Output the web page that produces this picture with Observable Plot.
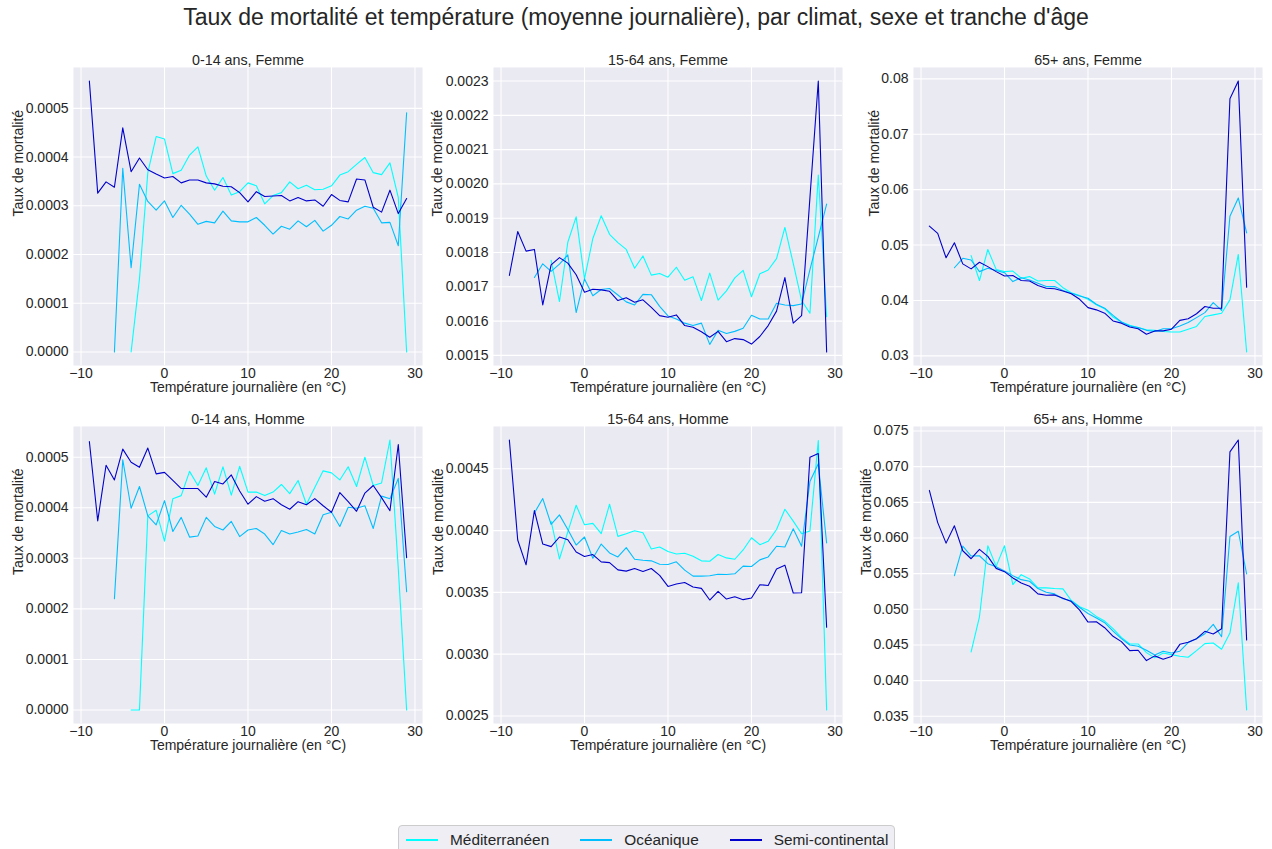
<!DOCTYPE html>
<html>
<head>
<meta charset="utf-8">
<script src="https://cdn.jsdelivr.net/npm/d3@7"></script>
<script src="https://cdn.jsdelivr.net/npm/@observablehq/plot@0.6"></script>
<style>
  body { margin: 0; background: #ffffff; }
  #fig { position: relative; width: 1272px; height: 849px; overflow: hidden; background: #fff;
         font-family: "Liberation Sans", Arial, sans-serif; color: #262626; }
  #title { position: absolute; left: 0; top: 6px; width: 1272px; text-align: center;
           font-size: 23px; line-height: 23px; white-space: nowrap; }
  .panel { position: absolute; }
  .panel svg { overflow: visible; }
  #legend { position: absolute; left: 398px; top: 825px; width: 497px; height: 34px;
            background: #eeeef4; border: 1px solid #cccccc; border-radius: 4px; box-sizing: border-box;
            display: flex; align-items: flex-start; padding-left: 7px; padding-top: 5px; }
  .item { display: flex; align-items: center; margin-right: 31px; height: 18px; }
  .sw { display: inline-block; width: 32px; height: 1.2px; margin-right: 12px; }
  .lab { font-size: 15.4px; line-height: 18px; white-space: nowrap; }
</style>
</head>
<body>
<div id="fig">
  <div id="title">Taux de mortalité et température (moyenne journalière), par climat, sexe et tranche d'âge</div>
  <div id="legend"></div>
</div>
<script>
// ---------- Data ----------
const temps = [-9,-8,-7,-6,-5,-4,-3,-2,-1,0,1,2,3,4,5,6,7,8,9,10,11,12,13,14,15,16,17,18,19,20,21,22,23,24,25,26,27,28,29];
const climats = ["Méditerranéen", "Océanique", "Semi-continental"];
const couleurs = ["#00ffff", "#00bfff", "#0000cd"];
const panelTitles = ["0-14 ans, Femme", "15-64 ans, Femme", "65+ ans, Femme", "0-14 ans, Homme", "15-64 ans, Homme", "65+ ans, Homme"];
const xLabel = "Température journalière (en °C)";
const yLabel = "Taux de mortalité";
const xTicks = [-10, 0, 10, 20, 30];
const xTickLabels = ["−10", "0", "10", "20", "30"];

// 0-14 ans, Femme
const f014_med = [null,null,null,null,null, 0,0.00015,0.000368,0.000442,0.000437,0.000366,0.000373,0.000404,0.000421,0.000361,0.000332,0.000358,0.000322,0.000329,0.000347,0.000341,0.000304,0.000321,0.000327,0.000349,0.000335,0.000342,0.000333,0.000334,0.000341,0.000363,0.00037,0.000385,0.000399,0.000368,0.000364,0.000388,0.000317,0];
const f014_oce = [null,null,null, 0,0.000377,0.000173,0.000344,0.000309,0.000291,0.00031,0.000276,0.000301,0.000283,0.000262,0.000268,0.000265,0.000289,0.000269,0.000267,0.000267,0.000276,0.00026,0.000242,0.000258,0.000252,0.000269,0.000257,0.00027,0.000248,0.00026,0.000278,0.000273,0.000291,0.000299,0.000295,0.000265,0.000266,0.000218,0.000491];
const f014_semi = [0.000556,0.000326,0.000349,0.000338,0.00046,0.00037,0.000398,0.000374,0.000365,0.000357,0.00036,0.000347,0.000353,0.000353,0.000347,0.000345,0.00034,0.000339,0.000327,0.000308,0.000329,0.000319,0.00032,0.000321,0.00031,0.000317,0.00031,0.000312,0.000299,0.000323,0.000311,0.000308,0.000355,0.000353,0.000297,0.000287,0.000332,0.000284,0.000315];
const f014_ticks = [0, 0.0001, 0.0002, 0.0003, 0.0004, 0.0005];
const f014_tickLabels = ["0.0000", "0.0001", "0.0002", "0.0003", "0.0004", "0.0005"];

// 15-64 ans, Femme
const f1564_med = [null,null,null,null,null, 0.001777,0.001657,0.00183,0.001904,0.001723,0.001841,0.001907,0.001853,0.001829,0.001809,0.001754,0.00179,0.001734,0.001739,0.001728,0.001757,0.001719,0.001729,0.00166,0.00174,0.001661,0.001688,0.001726,0.001748,0.001671,0.001738,0.001749,0.001782,0.001873,0.001768,0.00166,0.001623,0.002026,0.001613];
const f1564_oce = [null,null,null, 0.001727,0.001767,0.001745,0.001766,0.001793,0.001625,0.001723,0.001674,0.001692,0.001695,0.001676,0.001656,0.001647,0.001678,0.001677,0.001643,0.001615,0.001606,0.001594,0.001587,0.001594,0.001532,0.001573,0.001564,0.00157,0.001579,0.001617,0.001606,0.001606,0.001652,0.001647,0.001645,0.00165,0.00175,0.001845,0.001941];
const f1564_semi = [0.001733,0.001861,0.001804,0.001809,0.001647,0.001764,0.001785,0.001769,0.001735,0.001684,0.001693,0.001691,0.001687,0.00166,0.001668,0.001655,0.001662,0.00164,0.001616,0.001611,0.001618,0.001587,0.001582,0.001569,0.001553,0.00157,0.00154,0.001549,0.001546,0.001533,0.001555,0.001587,0.001629,0.001727,0.001594,0.001616,0.00196,0.0023,0.00151];
const f1564_ticks = [0.0015, 0.0016, 0.0017, 0.0018, 0.0019, 0.0020, 0.0021, 0.0022, 0.0023];
const f1564_tickLabels = ["0.0015", "0.0016", "0.0017", "0.0018", "0.0019", "0.0020", "0.0021", "0.0022", "0.0023"];

// 65+ ans, Femme
const f65_med = [null,null,null,null,null, 0.0481,0.0436,0.0492,0.0456,0.0452,0.0453,0.0440,0.0443,0.0435,0.0436,0.0436,0.0423,0.0414,0.0409,0.0402,0.0392,0.0385,0.0370,0.0361,0.0355,0.0351,0.0347,0.0346,0.0344,0.0343,0.0343,0.0348,0.0353,0.0371,0.0374,0.0377,0.0401,0.0483,0.0307];
const f65_oce = [null,null,null, 0.0459,0.0476,0.0473,0.0452,0.0458,0.0454,0.0450,0.0434,0.0441,0.0437,0.0431,0.0425,0.0425,0.0418,0.0413,0.0408,0.0404,0.0393,0.0386,0.0373,0.0361,0.0354,0.0351,0.0346,0.0344,0.0349,0.0349,0.0354,0.0360,0.0369,0.0378,0.0396,0.0382,0.0552,0.0585,0.0522];
const f65_semi = [0.0534,0.0521,0.0477,0.0504,0.0466,0.0457,0.0469,0.0461,0.0452,0.0444,0.0445,0.0436,0.0435,0.0427,0.0422,0.0421,0.0417,0.0412,0.0402,0.0387,0.0383,0.0377,0.0363,0.0359,0.0352,0.0349,0.0339,0.0345,0.0345,0.0348,0.0364,0.0367,0.0376,0.0389,0.0386,0.0386,0.0764,0.0796,0.0424];
const f65_ticks = [0.03, 0.04, 0.05, 0.06, 0.07, 0.08];
const f65_tickLabels = ["0.03", "0.04", "0.05", "0.06", "0.07", "0.08"];

// 0-14 ans, Homme
const h014_med = [null,null,null,null,null, 0,0,0.000384,0.000395,0.000334,0.000418,0.000424,0.000472,0.000444,0.000479,0.000427,0.000481,0.000425,0.000482,0.000431,0.000431,0.000424,0.000431,0.000446,0.000428,0.000454,0.000407,0.00044,0.000473,0.000469,0.000455,0.000481,0.000442,0.0005,0.000444,0.000449,0.000534,0.00028,0];
const h014_oce = [null,null,null, 0.00022,0.000495,0.000399,0.000442,0.000384,0.000366,0.000414,0.000353,0.000381,0.000342,0.000344,0.000381,0.000363,0.000356,0.000373,0.000343,0.000356,0.000359,0.000348,0.000327,0.000355,0.000348,0.000352,0.000357,0.000348,0.000386,0.000391,0.000363,0.000401,0.000399,0.000404,0.000359,0.000423,0.000418,0.000458,0.000234];
const h014_semi = [0.000531,0.000374,0.000484,0.000455,0.000516,0.00049,0.00048,0.000518,0.000467,0.00047,0.000454,0.000438,0.000438,0.000438,0.000421,0.000452,0.000447,0.000465,0.000433,0.000407,0.000422,0.000413,0.000418,0.000406,0.000397,0.000412,0.000406,0.000418,0.000404,0.000391,0.00043,0.000412,0.000393,0.000429,0.000444,0.00042,0.000394,0.000525,0.000301];
const h014_ticks = [0, 0.0001, 0.0002, 0.0003, 0.0004, 0.0005];
const h014_tickLabels = ["0.0000", "0.0001", "0.0002", "0.0003", "0.0004", "0.0005"];

// 15-64 ans, Homme
const h1564_med = [null,null,null,null,null, 0.004076,0.00377,0.00399,0.004205,0.004047,0.004058,0.003975,0.004213,0.003953,0.003975,0.003999,0.003983,0.003851,0.003867,0.00383,0.003811,0.003816,0.003792,0.003755,0.003752,0.003806,0.003779,0.003768,0.003843,0.003942,0.003886,0.003913,0.004009,0.004173,0.004076,0.003975,0.003996,0.004728,0.002548];
const h1564_oce = [null,null,null, 0.004143,0.004259,0.00405,0.004127,0.004009,0.003883,0.003948,0.003776,0.003891,0.003819,0.003787,0.003862,0.003768,0.00376,0.003755,0.003728,0.003725,0.003747,0.00368,0.003631,0.003631,0.003634,0.003647,0.003645,0.00365,0.003712,0.003709,0.003763,0.003787,0.003873,0.003867,0.004015,0.003873,0.004398,0.00454,0.003899];
const h1564_semi = [0.004733,0.003924,0.003723,0.004162,0.003891,0.00387,0.003948,0.003926,0.003827,0.00379,0.003806,0.003747,0.003741,0.003682,0.003672,0.003693,0.003669,0.003693,0.003637,0.003548,0.003567,0.00358,0.003543,0.003532,0.003438,0.003508,0.003446,0.003465,0.003441,0.003454,0.003562,0.003556,0.00369,0.00372,0.003495,0.003497,0.004594,0.004623,0.003218];
const h1564_ticks = [0.0025, 0.0030, 0.0035, 0.0040, 0.0045];
const h1564_tickLabels = ["0.0025", "0.0030", "0.0035", "0.0040", "0.0045"];

// 65+ ans, Homme
const h65_med = [null,null,null,null,null, 0.04402,0.04895,0.05891,0.05602,0.05891,0.05347,0.05486,0.05426,0.053,0.053,0.05291,0.05286,0.05123,0.05035,0.04988,0.049,0.04835,0.04728,0.04607,0.04514,0.04514,0.04393,0.04319,0.04388,0.04365,0.04342,0.04328,0.04421,0.04519,0.04528,0.0444,0.04667,0.0537,0.03588];
const h65_oce = [null,null,null, 0.05472,0.05886,0.05747,0.05751,0.0564,0.05598,0.05537,0.05472,0.05416,0.05393,0.05291,0.0524,0.05216,0.05147,0.05119,0.05026,0.04942,0.04877,0.04812,0.04695,0.04588,0.045,0.04481,0.04426,0.0436,0.04412,0.04388,0.04412,0.04533,0.04588,0.04658,0.04788,0.04616,0.06021,0.06095,0.05495];
const h65_semi = [0.06667,0.06216,0.05928,0.0617,0.05821,0.05709,0.0584,0.05742,0.05574,0.05528,0.0544,0.0537,0.05323,0.05216,0.05198,0.05202,0.05156,0.05109,0.04988,0.04821,0.04826,0.04742,0.04621,0.04547,0.04421,0.04426,0.04281,0.04347,0.043,0.04337,0.04509,0.04537,0.04588,0.04691,0.04653,0.04728,0.07207,0.07374,0.0457];
const h65_ticks = [0.035, 0.040, 0.045, 0.050, 0.055, 0.060, 0.065, 0.070, 0.075];
const h65_tickLabels = ["0.035", "0.040", "0.045", "0.050", "0.055", "0.060", "0.065", "0.070", "0.075"];

// ---------- Layout ----------
const panels = [
  {title: panelTitles[0], series: [f014_med, f014_oce, f014_semi], ticks: f014_ticks, labels: f014_tickLabels, row: 0, col: 0, ylabOff: 60},
  {title: panelTitles[1], series: [f1564_med, f1564_oce, f1564_semi], ticks: f1564_ticks, labels: f1564_tickLabels, row: 0, col: 1, ylabOff: 61},
  {title: panelTitles[2], series: [f65_med, f65_oce, f65_semi], ticks: f65_ticks, labels: f65_tickLabels, row: 0, col: 2, ylabOff: 44},
  {title: panelTitles[3], series: [h014_med, h014_oce, h014_semi], ticks: h014_ticks, labels: h014_tickLabels, row: 1, col: 0, ylabOff: 60},
  {title: panelTitles[4], series: [h1564_med, h1564_oce, h1564_semi], ticks: h1564_ticks, labels: h1564_tickLabels, row: 1, col: 1, ylabOff: 60},
  {title: panelTitles[5], series: [h65_med, h65_oce, h65_semi], ticks: h65_ticks, labels: h65_tickLabels, row: 1, col: 2, ylabOff: 52}
];

const fig = document.getElementById("fig");
const mL = 73, mR = 8, mT = 25, mB = 45, plotW = 349;
const rowTop = [67, 426], rowH = [298, 297];
const colLeft = [73, 493, 913];
const font = "'Liberation Sans', Arial, sans-serif";
const tickFont = 14;

const xLabelMap = new Map(xTicks.map((d, i) => [d, xTickLabels[i]]));

for (const p of panels) {
  const data = [];
  p.series.forEach((arr, k) => {
    arr.forEach((v, i) => {
      if (v !== null) data.push({t: temps[i], v, climat: climats[k]});
    });
  });
  // matplotlib-like autoscale: data extent with 5% margins
  const tExt = d3.extent(data, d => d.t), vExt = d3.extent(data, d => d.v);
  const tPad = (tExt[1] - tExt[0]) * 0.05, vPad = (vExt[1] - vExt[0]) * 0.05;
  const yMap = new Map(p.ticks.map((d, i) => [d, p.labels[i]]));

  const chart = Plot.plot({
    width: mL + plotW + mR,
    height: mT + rowH[p.row] + mB,
    marginLeft: mL, marginRight: mR, marginTop: mT, marginBottom: mB,
    x: {domain: [tExt[0] - tPad, tExt[1] + tPad], label: null},
    y: {domain: [vExt[0] - vPad, vExt[1] + vPad], label: null},
    color: {domain: climats, range: couleurs},
    style: {background: "transparent", fontFamily: font, fontSize: tickFont + "px", color: "#262626", overflow: "visible"},
    marks: [
      Plot.frame({fill: "#eaeaf2", stroke: "none"}),
      Plot.gridX(xTicks, {stroke: "#ffffff", strokeOpacity: 1, strokeWidth: 1.1}),
      Plot.gridY(p.ticks, {stroke: "#ffffff", strokeOpacity: 1, strokeWidth: 1.1}),
      Plot.axisX(xTicks, {tickSize: 0, tickPadding: 3, tickFormat: d => xLabelMap.get(d), label: null, fontSize: tickFont}),
      Plot.axisY(p.ticks, {tickSize: 0, tickPadding: 5, tickFormat: d => yMap.get(d), label: null, fontSize: tickFont}),
      Plot.line(data, {x: "t", y: "v", z: "climat", stroke: "climat", strokeWidth: 1.1, curve: "linear"}),
      Plot.text([p.title], {frameAnchor: "top", lineAnchor: "bottom", dy: -3, fontSize: 14.3, fill: "#262626"}),
      Plot.text([xLabel], {frameAnchor: "bottom", lineAnchor: "top", dy: 16.5, fontSize: 14, fill: "#262626"}),
      Plot.text([yLabel], {frameAnchor: "left", lineAnchor: "top", rotate: -90, dx: -p.ylabOff, fontSize: 14, fill: "#262626"})
    ]
  });
  // make sure tick labels use the intended size
  d3.select(chart).selectAll('g[aria-label$="tick label"]').attr("font-size", tickFont);
  const wrap = document.createElement("div");
  wrap.className = "panel";
  wrap.style.left = (colLeft[p.col] - mL) + "px";
  wrap.style.top = (rowTop[p.row] - mT) + "px";
  wrap.appendChild(chart);
  fig.appendChild(wrap);
}

// ---------- Legend ----------
const legend = document.getElementById("legend");
climats.forEach((c, i) => {
  const item = document.createElement("div");
  item.className = "item";
  const sw = document.createElement("span");
  sw.className = "sw";
  sw.style.background = couleurs[i];
  const lab = document.createElement("span");
  lab.className = "lab";
  lab.textContent = c;
  item.appendChild(sw);
  item.appendChild(lab);
  legend.appendChild(item);
});
</script>
</body>
</html>
